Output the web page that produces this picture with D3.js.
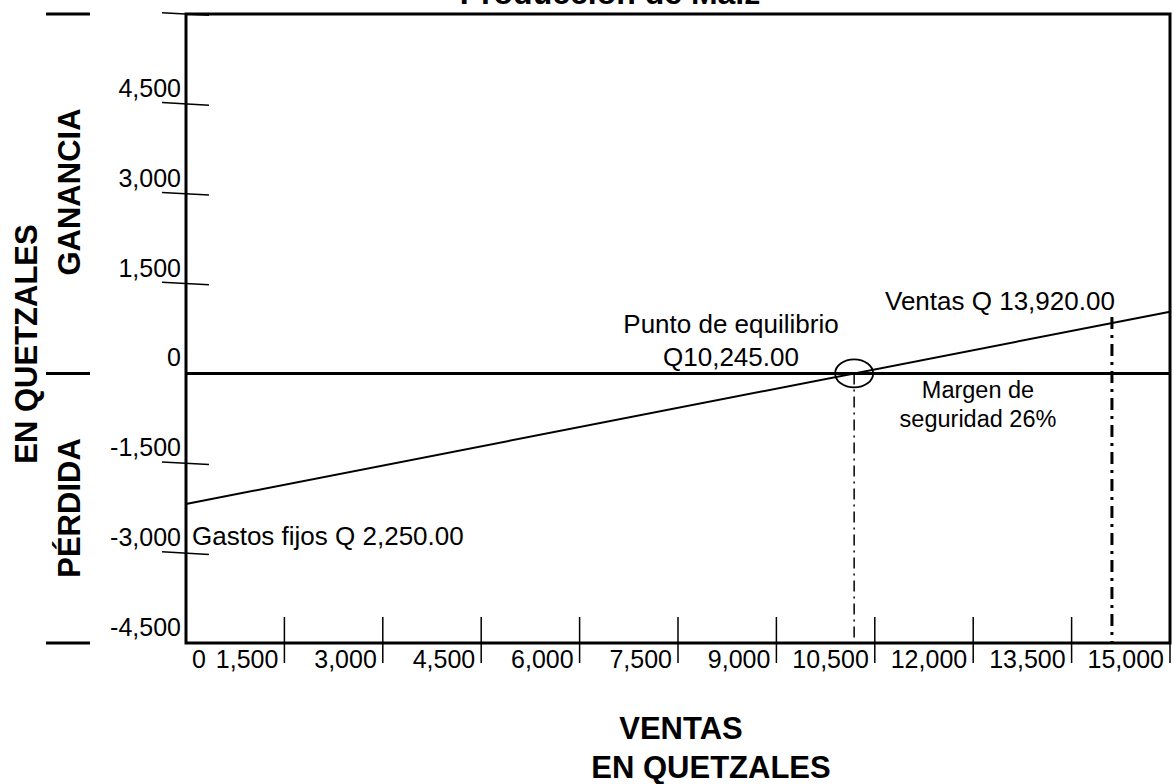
<!DOCTYPE html>
<html>
<head>
<meta charset="utf-8">
<script src="https://cdn.jsdelivr.net/npm/d3@7"></script>
<style>
  body { margin: 0; background: #fff; }
  svg { display: block; font-family: "Liberation Sans", Arial, sans-serif; }
</style>
</head>
<body>
<div id="chart"></div>
<script>
// valores
const titulo = 'Producción de Maíz'
const yTicks = [6000, 4500, 3000, 1500, -1500, -3000]
const yLabels = [4500, 3000, 1500, 0, -1500, -3000, -4500]
const xTicks = [1500, 3000, 4500, 6000, 7500, 9000, 10500, 12000, 13500, 15000]
const xLabels = [1500, 3000, 4500, 6000, 7500, 9000, 10500, 12000, 13500, 15000]
const lineaResultado = [
  { ventas: 0, resultado: -2180 },
  { ventas: 15000, resultado: 1030 }
]
const puntoEquilibrio = 10185
const ventasMarca = 14115
const ventasTope = 940

const width = 1174, height = 784
const marco = { left: 186, right: 1170, top: 14, bottom: 643 }

const fmt = d3.formatLocale({ decimal: '.', thousands: ',', grouping: [3], currency: ['', ''], minus: '-' }).format(',')

const x = d3.scaleLinear().domain([0, 15000]).range([marco.left, marco.right])
const y = d3.scaleLinear().domain([-4500, 6000]).range([marco.bottom, marco.top])

const svg = d3.select('#chart').append('svg')
  .attr('width', width)
  .attr('height', height)

// título (cortado arriba como en el original)
svg.append('text')
  .attr('x', 610).attr('y', 4)
  .attr('text-anchor', 'middle')
  .attr('font-size', 32).attr('font-weight', 'bold')
  .text(titulo)

// marco
svg.append('rect')
  .attr('x', marco.left).attr('y', marco.top)
  .attr('width', marco.right - marco.left).attr('height', marco.bottom - marco.top)
  .attr('fill', 'none').attr('stroke', '#000').attr('stroke-width', 3)

// línea de cero
svg.append('line')
  .attr('x1', marco.left).attr('x2', marco.right)
  .attr('y1', y(0)).attr('y2', y(0))
  .attr('stroke', '#000').attr('stroke-width', 3)

// corchetes a la izquierda
svg.selectAll('line.bracket')
  .data([6000, 0, -4500])
  .join('line')
  .attr('class', 'bracket')
  .attr('x1', 46).attr('x2', 90)
  .attr('y1', d => y(d)).attr('y2', d => y(d))
  .attr('stroke', '#000').attr('stroke-width', 3)

// marcas eje y (inclinadas)
svg.selectAll('line.ytick')
  .data(yTicks)
  .join('line')
  .attr('class', 'ytick')
  .attr('x1', 162).attr('x2', 209)
  .attr('y1', d => y(d) - 1.3).attr('y2', d => y(d) + 1.3)
  .attr('stroke', '#000').attr('stroke-width', 1.5)

svg.selectAll('text.ylabel')
  .data(yLabels)
  .join('text')
  .attr('class', 'ylabel')
  .attr('x', 181)
  .attr('y', d => y(d) - 7)
  .attr('text-anchor', 'end')
  .attr('font-size', 25)
  .text(d => fmt(d))

// marcas eje x
svg.selectAll('line.xtick')
  .data(xTicks)
  .join('line')
  .attr('class', 'xtick')
  .attr('x1', d => x(d)).attr('x2', d => x(d))
  .attr('y1', marco.bottom - 26).attr('y2', marco.bottom + 20)
  .attr('stroke', '#000').attr('stroke-width', 1.5)

svg.selectAll('text.xlabel')
  .data(xLabels)
  .join('text')
  .attr('class', 'xlabel')
  .attr('x', d => x(d) - 6)
  .attr('y', 668)
  .attr('text-anchor', 'end')
  .attr('font-size', 25)
  .text(d => fmt(d))

svg.append('text')
  .attr('x', x(0) + 6).attr('y', 668)
  .attr('font-size', 25)
  .text('0')

// línea de resultado
const linea = d3.line().x(d => x(d.ventas)).y(d => y(d.resultado))
svg.append('path')
  .datum(lineaResultado)
  .attr('d', linea)
  .attr('fill', 'none')
  .attr('stroke', '#000').attr('stroke-width', 2)

// punto de equilibrio
svg.append('line')
  .attr('x1', x(puntoEquilibrio)).attr('x2', x(puntoEquilibrio))
  .attr('y1', y(0)).attr('y2', marco.bottom)
  .attr('stroke', '#000').attr('stroke-width', 1.5)
  .attr('stroke-dasharray', '11 5 2 5')

svg.append('ellipse')
  .attr('cx', x(puntoEquilibrio)).attr('cy', y(0))
  .attr('rx', 19).attr('ry', 14)
  .attr('fill', 'none').attr('stroke', '#000').attr('stroke-width', 1.8)

// ventas
svg.append('line')
  .attr('x1', x(ventasMarca)).attr('x2', x(ventasMarca))
  .attr('y1', y(ventasTope)).attr('y2', marco.bottom)
  .attr('stroke', '#000').attr('stroke-width', 3)
  .attr('stroke-dasharray', '12 6 3 6')

// anotaciones
const notas = [
  { t: 'Punto de equilibrio', x: 731, y: 333, a: 'middle', s: 26 },
  { t: 'Q10,245.00', x: 731, y: 366, a: 'middle', s: 26 },
  { t: 'Ventas Q 13,920.00', x: 885, y: 310, a: 'start', s: 26 },
  { t: 'Margen de', x: 978, y: 398, a: 'middle', s: 23.5 },
  { t: 'seguridad 26%', x: 978, y: 427, a: 'middle', s: 23.5 },
  { t: 'Gastos fijos Q 2,250.00', x: 192, y: 545, a: 'start', s: 26 }
]
svg.selectAll('text.nota')
  .data(notas)
  .join('text')
  .attr('class', 'nota')
  .attr('x', d => d.x).attr('y', d => d.y)
  .attr('text-anchor', d => d.a)
  .attr('font-size', d => d.s)
  .text(d => d.t)

// títulos de ejes
const rotados = [
  { t: 'GANANCIA', x: 80, y: 192 },
  { t: 'PÉRDIDA', x: 80, y: 508 },
  { t: 'EN QUETZALES', x: 37, y: 344 }
]
svg.selectAll('text.rot')
  .data(rotados)
  .join('text')
  .attr('class', 'rot')
  .attr('transform', d => `translate(${d.x},${d.y}) rotate(-90)`)
  .attr('text-anchor', 'middle')
  .attr('font-size', 31).attr('font-weight', 'bold')
  .text(d => d.t)

svg.append('text')
  .attr('x', 681).attr('y', 739)
  .attr('text-anchor', 'middle')
  .attr('font-size', 31).attr('font-weight', 'bold')
  .text('VENTAS')

svg.append('text')
  .attr('x', 711).attr('y', 778)
  .attr('text-anchor', 'middle')
  .attr('font-size', 31).attr('font-weight', 'bold')
  .text('EN QUETZALES')
</script>
</body>
</html>
